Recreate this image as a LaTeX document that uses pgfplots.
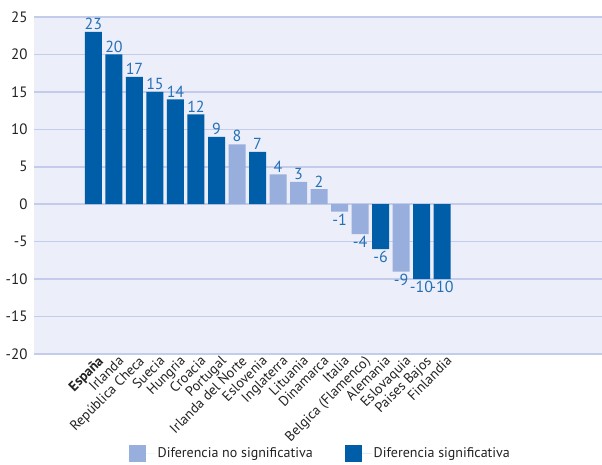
\documentclass[border=0pt]{standalone}
\usepackage{pgfplots}
\pgfplotsset{compat=1.18}
\usepackage{fontspec}
\setmainfont{PT Sans}
\definecolor{darkb}{HTML}{005EA8}
\definecolor{lightb}{HTML}{98AEDD}
\definecolor{bgc}{HTML}{ECEEFA}
\definecolor{gridc}{HTML}{C4CCEC}
\definecolor{valc}{HTML}{2470B6}
\definecolor{txt}{HTML}{222222}
\begin{document}
\begin{tikzpicture}[x=1pt,y=1pt]
\begin{axis}[
  at={(34pt,111pt)}, anchor=south west,
  scale only axis, width=568pt, height=337pt,
  xmin=-2.9, xmax=24.8, ymin=-20, ymax=25,
  ytick={-20,-15,...,25},
  xtick={0,...,17},
  xticklabels={\textbf{España},Irlanda,República Checa,Suecia,Hungria,Croacia,Portugal,Irlanda del Norte,Eslovenia,Inglaterra,Lituania,Dinamarca,Italia,Belgica (Flamenco),Alemania,Eslovaquia,Paises Bajos,Finlandia},
  x tick label style={rotate=45, anchor=north east, font=\fontsize{14}{16}\selectfont, text=txt, inner sep=1pt, xshift=3pt, yshift=-2pt},
  y tick label style={font=\fontsize{15}{17}\selectfont, text=txt, xshift=-3pt},
  /pgf/number format/assume math mode=true,
  major tick length=0pt,
  axis line style={draw=none},
  ymajorgrids, grid style={gridc, line width=1.6pt},
  axis background/.style={fill=bgc},
  ybar, bar width=17pt, bar shift=0pt,
  nodes near coords,
  every node near coord/.append style={font=\fontsize{16}{18}\selectfont, text=valc, inner sep=2pt},
  legend image code/.code={\fill[#1] (0pt,-8.5pt) rectangle (17pt,8.5pt); \path (0pt,0pt) -- (27pt,0pt);},
  legend style={at={(axis description cs:0.504,-0.295)}, anchor=center, draw=none, fill=none,
    font=\fontsize{14}{16}\selectfont, text=txt,
    /tikz/every even column/.append style={column sep=30pt}},
  legend columns=2,
]
\addplot[fill=lightb, draw=none] coordinates {(7,8) (9,4) (10,3) (11,2) (12,-1) (13,-4) (15,-9)};
\addlegendentry{Diferencia no significativa}
\addplot[fill=darkb, draw=none] coordinates {(0,23) (1,20) (2,17) (3,15) (4,14) (5,12) (6,9) (8,7) (14,-6) (16,-10) (17,-10)};
\addlegendentry{Diferencia significativa}
\end{axis}
\pgfresetboundingbox
\path (0,0) rectangle (602,465);
\end{tikzpicture}
\end{document}
